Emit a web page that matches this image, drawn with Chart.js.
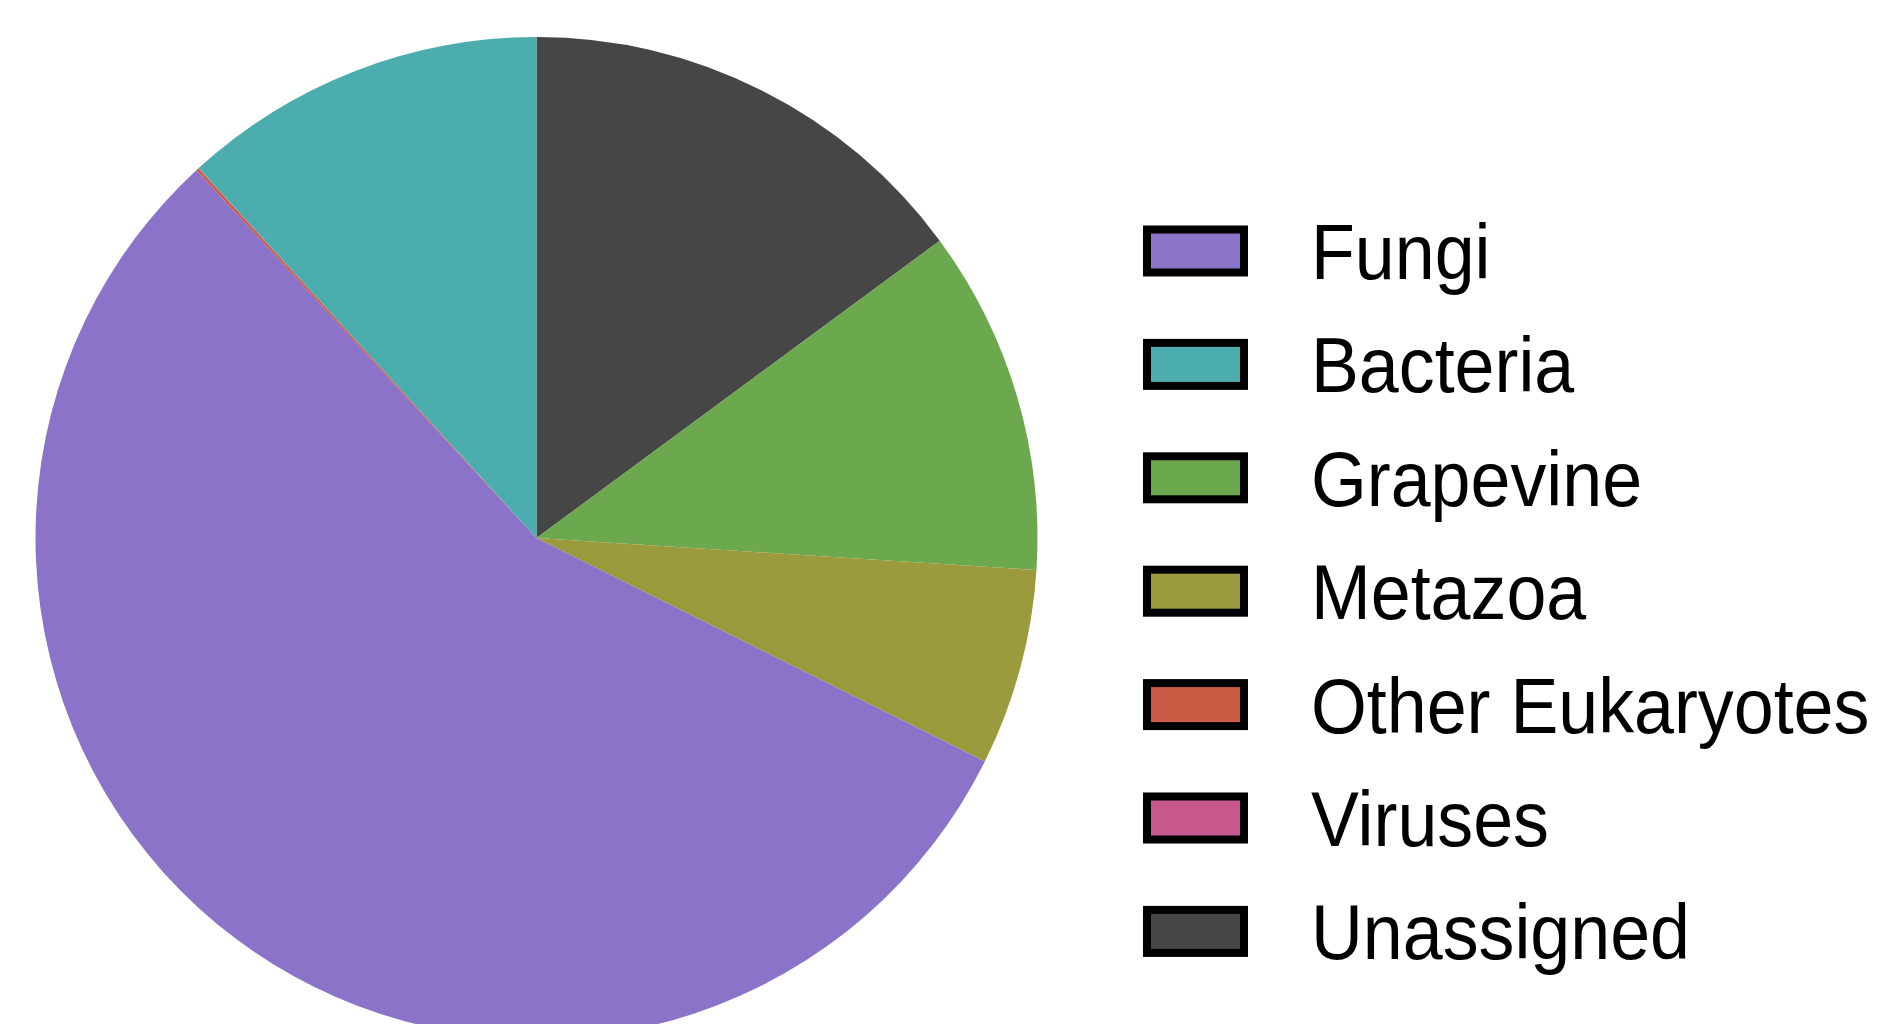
<!DOCTYPE html>
<html>
<head>
<meta charset="utf-8">
<title>Taxonomic assignment</title>
<script src="https://cdn.jsdelivr.net/npm/chart.js@4/dist/chart.umd.min.js"></script>
<style>
  html, body { margin: 0; padding: 0; background: #fff; overflow: hidden; }
  #wrap { width: 1890px; height: 1076px; }
</style>
</head>
<body>
<div id="wrap"><canvas id="chart-taxa" width="1890" height="1076"></canvas></div>
<script>
/* Share of reads per taxonomic group (%), in drawing order clockwise from 12 o'clock */
const labels = ['Unassigned', 'Grapevine', 'Metazoa', 'Fungi', 'Other Eukaryotes', 'Viruses', 'Bacteria'];
const values = [14.89, 11.13, 6.35, 55.77, 0.09, 0.01, 11.78];
const colors = ['#464646', '#6ca84e', '#9b9b3e', '#8a73c9', '#cc5b46', '#c7598f', '#4badae'];

/* Legend is listed in its own order */
const legendOrder = ['Fungi', 'Bacteria', 'Grapevine', 'Metazoa', 'Other Eukaryotes', 'Viruses', 'Unassigned'];

/* ---- Boxed legend on the right ---- */
const boxLegend = {
  id: 'boxLegend',
  afterDraw(chart) {
    const ctx = chart.ctx;
    const ds = chart.data.datasets[0];
    const boxX = 1143, boxW = 105, boxH = 51, lw = 8;
    const textX = 1311, firstY = 251, step = 113.4;
    ctx.save();
    ctx.font = '78px "Liberation Sans", Arial, sans-serif';
    ctx.textBaseline = 'alphabetic';
    legendOrder.forEach((name, i) => {
      const idx = chart.data.labels.indexOf(name);
      const cy = firstY + i * step;
      const x = boxX + lw / 2, y = cy - boxH / 2 + lw / 2;
      ctx.fillStyle = ds.backgroundColor[idx];
      ctx.fillRect(x, y, boxW - lw, boxH - lw);
      ctx.lineWidth = lw;
      ctx.strokeStyle = '#000';
      ctx.strokeRect(x, y, boxW - lw, boxH - lw);
      ctx.save();
      ctx.translate(textX, cy + 28);
      ctx.scale(0.92, 1);
      ctx.fillStyle = '#000';
      ctx.fillText(name, 0, 0);
      ctx.restore();
    });
    ctx.restore();
  }
};

new Chart(document.getElementById('chart-taxa'), {
  type: 'pie',
  data: {
    labels,
    datasets: [{
      data: values,
      backgroundColor: colors,
      borderWidth: 0,
    }],
  },
  options: {
    responsive: false,
    animation: false,
    radius: 501,
    layout: { padding: { left: 0, right: 817, top: 0, bottom: 0 } },
    plugins: {
      legend: { display: false },
      tooltip: { enabled: false },
    },
  },
  plugins: [boxLegend],
});
</script>
</body>
</html>
